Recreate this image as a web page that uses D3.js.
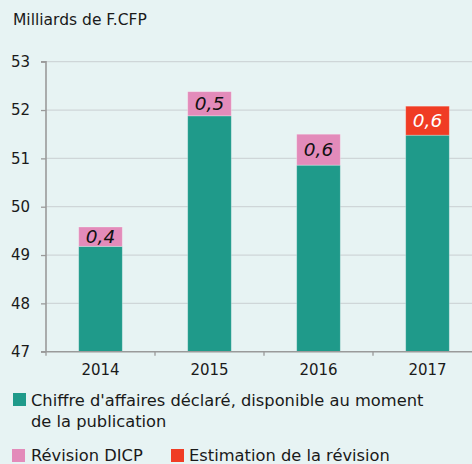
<!DOCTYPE html>
<html><head><meta charset="utf-8">
<script src="https://cdn.jsdelivr.net/npm/d3@7"></script>
<style>
body{margin:0;background:#e7f3f3;}
svg{display:block;font-family:"DejaVu Sans",sans-serif;}
</style></head><body>
<div id="chart"></div>
<script>
const years = ["2014","2015","2016","2017"];
const declared = [49.18, 51.88, 50.86, 51.48];
const revisionDICP = [0.4, 0.5, 0.64, 0];
const estimation = [0, 0, 0, 0.6];
const segLabels = ["0,4","0,5","0,6","0,6"];
const yTicks = [47,48,49,50,51,52,53];
const colors = {declared:"#1f9a8a", dicp:"#e38bba", est:"#f03c24"};

const W=472,H=464;
const svg=d3.select("#chart").append("svg").attr("width",W).attr("height",H);
svg.append("rect").attr("width",W).attr("height",H).attr("fill","#e7f3f3");

const x=d3.scaleBand().domain(years).range([46,482]).paddingInner(0.6).paddingOuter(0.3);
const y=d3.scaleLinear().domain([47,53]).range([351.7,61.7]);

// gridlines
svg.append("g").selectAll("line").data(yTicks.slice(1)).join("line")
 .attr("x1",46).attr("x2",W).attr("y1",d=>y(d)).attr("y2",d=>y(d))
 .attr("stroke","#cfd6d8").attr("stroke-width",1.3);

const data=years.map((yr,i)=>({yr,base:declared[i],dicp:revisionDICP[i],est:estimation[i],lab:segLabels[i]}));

const g=svg.append("g");
g.selectAll("rect.b").data(data).join("rect").attr("class","b")
 .attr("x",d=>x(d.yr)).attr("width",x.bandwidth())
 .attr("y",d=>y(d.base)).attr("height",d=>y(47)-y(d.base))
 .attr("fill",colors.declared).attr("stroke","rgba(255,255,255,0.35)").attr("stroke-width",0.8);
data.forEach(d=>{
  const v=d.dicp>0?d.dicp:d.est;
  const col=d.dicp>0?colors.dicp:colors.est;
  const top=d.base+v;
  g.append("rect").attr("x",x(d.yr)).attr("width",x.bandwidth())
   .attr("y",y(top)).attr("height",y(d.base)-y(top))
   .attr("fill",col).attr("stroke","rgba(255,255,255,0.35)").attr("stroke-width",0.8);
  g.append("text").attr("x",x(d.yr)+x.bandwidth()/2).attr("y",(y(top)+y(d.base))/2+6.5)
   .attr("text-anchor","middle").attr("font-style","italic").attr("font-size",18.5)
   .attr("fill",d.dicp>0?"#111":"#fff").text(d.lab);
});

// axes
const yAxis=svg.append("g").attr("transform","translate(46,0)")
 .call(d3.axisLeft(y).tickValues(yTicks).tickSize(5).tickFormat(d3.format("d")));
const xAxis=svg.append("g").attr("transform",`translate(0,${y(47)})`)
 .call(d3.axisBottom(x).tickSize(0));
// x ticks at band boundaries
svg.append("g").selectAll("line").data(years).join("line")
 .attr("x1",d=>x(d)-x.step()*0.3).attr("x2",d=>x(d)-x.step()*0.3)
 .attr("y1",y(47)).attr("y2",y(47)+4).attr("stroke","#9a9a9a").attr("stroke-width",1.3);
[yAxis,xAxis].forEach(a=>{
  a.select(".domain").attr("stroke","#9a9a9a").attr("stroke-width",1.6);
  a.selectAll(".tick line").attr("stroke","#9a9a9a").attr("stroke-width",1.3);
  a.selectAll("text").attr("fill","#1a1a1a").attr("font-size",15).attr("font-family","DejaVu Sans, sans-serif");
});
yAxis.select(".domain").attr("d",`M-5,${y(53)}H0V${y(47)}`);
yAxis.selectAll("text").attr("x",-16);
xAxis.select(".domain").attr("d",`M41,0H${W}`);
xAxis.selectAll("text").attr("dy","1.35em");

svg.append("text").attr("x",13).attr("y",25).attr("font-size",15.5).attr("fill","#1a1a1a").text("Milliards de F.CFP");

// legend
const leg=svg.append("g").attr("font-size",16.3).attr("fill","#1a1a1a");
leg.append("rect").attr("x",13).attr("y",393).attr("width",13).attr("height",13).attr("fill",colors.declared);
leg.append("text").attr("x",31).attr("y",406).text("Chiffre d'affaires déclaré, disponible au moment");
leg.append("text").attr("x",31).attr("y",427).text("de la publication");
leg.append("rect").attr("x",12).attr("y",449).attr("width",13).attr("height",13).attr("fill",colors.dicp);
leg.append("text").attr("x",31).attr("y",461).text("Révision DICP");
leg.append("rect").attr("x",171).attr("y",449).attr("width",13).attr("height",13).attr("fill",colors.est);
leg.append("text").attr("x",189).attr("y",461).text("Estimation de la révision");
</script></body></html>
